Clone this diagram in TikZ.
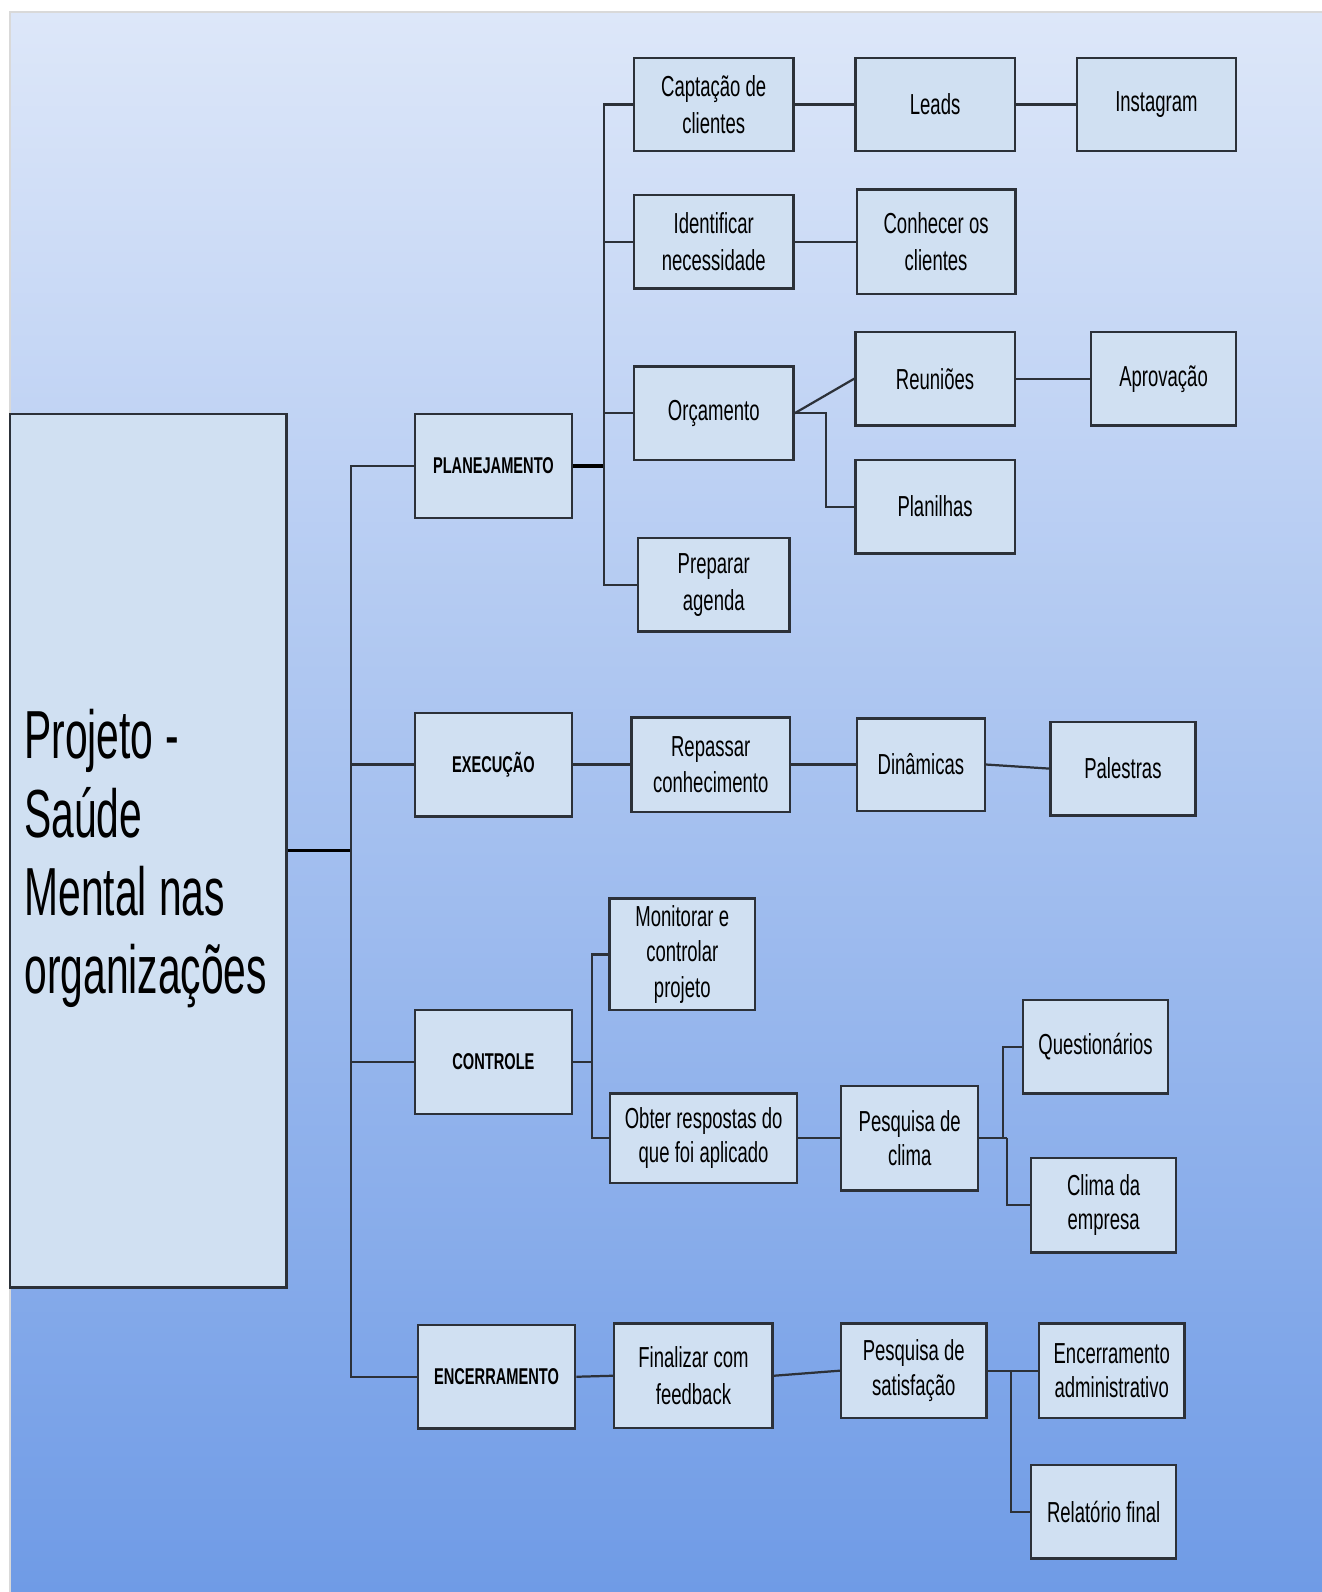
\documentclass[tikz,border=0pt]{standalone}
\usepackage{fontspec}
\setmainfont{Liberation Sans}[FakeStretch=0.64]
\newfontfamily\titlefont{Liberation Sans}[FakeStretch=0.6]
\usepackage{tikz}
\newcommand{\tightspace}{\spaceskip=0.18em plus 0.05em\relax}
\definecolor{boxfill}{HTML}{D0E0F2}
\definecolor{boxline}{HTML}{2C3139}
\definecolor{bgtop}{HTML}{DDE7F9}
\definecolor{bgbottom}{HTML}{6F9BE6}
\tikzset{
  task/.style={draw=boxline, fill=boxfill, line width=2.4pt, align=flush center, inner sep=2pt,
    font=\fontsize{28.5}{36}\selectfont\tightspace},
  phase/.style={task, minimum width=155pt, minimum height=102pt,
    font=\bfseries\fontsize{22.5}{28}\selectfont},
  link/.style={draw=boxline, line width=2.2pt},
}

\begin{document}
\begin{tikzpicture}[x=1pt, y=-1pt]
    \useasboundingbox (0,0) rectangle (1302,1568);
    \fill [white] (0,0) rectangle (1302,1568);
    \shade [top color=bgtop, bottom color=bgbottom] (10,12) rectangle (1302,1568);
    \draw [black!15, line width=1.5pt] (10,1568) -- (10,12) -- (1302,12);

    \node [task, text width=244pt, inner xsep=14pt, minimum height=860pt, align=flush left,
      font=\titlefont\fontsize{67}{77}\selectfont\tightspace] (projeto) at (146,838)
      {\rule{0pt}{64pt}Projeto -\\Saúde\\Mental nas\\organizações};

    \node [phase] (planejamento) at (486,459) {PLANEJAMENTO};
    \node [phase] (execucao) at (486,753) {EXECUÇÃO};
    \node [phase] (controle) at (486,1046) {CONTROLE};
    \node [phase] (encerramento) at (489,1356) {ENCERRAMENTO};

    %for planejamento
    \node [task, minimum width=157pt, minimum height=92pt] (captacao) at (703,103) {Captação de\\clientes};
    \node [task, minimum width=157pt, minimum height=92pt] (identificar) at (703,238) {Identificar\\necessidade};
    \node [task, minimum width=157pt, minimum height=92pt] (orcamento) at (703,407) {Orçamento};
    \node [task, minimum width=149pt, minimum height=92pt] (agenda) at (703,576) {Preparar\\agenda};
    \node [task, minimum width=157pt, minimum height=92pt] (leads) at (921,103) {Leads};
    \node [task, minimum width=157pt, minimum height=92pt] (instagram) at (1139,103) {Instagram};
    \node [task, minimum width=156pt, minimum height=103pt] (conhecer) at (922,238) {Conhecer os\\clientes};
    \node [task, minimum width=157pt, minimum height=92pt] (reunioes) at (921,373) {Reuniões};
    \node [task, minimum width=143pt, minimum height=92pt] (aprovacao) at (1146,373) {Aprovação};
    \node [task, minimum width=157pt, minimum height=92pt] (planilhas) at (921,499) {Planilhas};

    %for execucao
    \node [task, minimum width=156pt, minimum height=93pt] (repassar) at (700,753) {Repassar\\conhecimento};
    \node [task, minimum width=126pt, minimum height=91pt] (dinamicas) at (907,753) {Dinâmicas};
    \node [task, minimum width=143pt, minimum height=92pt] (palestras) at (1106,757) {Palestras};

    %for controle
    \node [task, minimum width=143pt, minimum height=110pt, font=\fontsize{28.5}{35}\selectfont\tightspace] (monitorar) at (672,940) {Monitorar e\\controlar\\projeto};
    \node [task, minimum width=184pt, minimum height=88pt, font=\fontsize{28.5}{34}\selectfont\tightspace] (obter) at (693,1121) {Obter respostas do\\que foi aplicado};
    \node [task, minimum width=135pt, minimum height=103pt, font=\fontsize{28.5}{34}\selectfont\tightspace] (clima) at (896,1121) {Pesquisa de\\clima};
    \node [task, minimum width=143pt, minimum height=92pt] (questionarios) at (1079,1031) {Questionários};
    \node [task, minimum width=143pt, minimum height=93pt, font=\fontsize{28.5}{34}\selectfont\tightspace] (empresa) at (1087,1187) {Clima da\\empresa};

    %for encerramento
    \node [task, minimum width=156pt, minimum height=103pt] (finalizar) at (683,1355) {Finalizar com\\feedback};
    \node [task, minimum width=143pt, minimum height=93pt, font=\fontsize{28.5}{34}\selectfont\tightspace] (satisfacao) at (900,1350) {Pesquisa de\\satisfação};
    \node [task, minimum width=143pt, minimum height=93pt, font=\fontsize{28.5}{34}\selectfont] (administrativo) at (1095,1350) {Encerramento\\administrativo};
    \node [task, minimum width=143pt, minimum height=92pt] (relatorio) at (1087,1489) {Relatório final};

    %trunk
    \coordinate (trunk) at (346,838);
    \draw [black, line width=3.2pt] (projeto.east) -- (trunk);
    \draw [link] (trunk) |- (planejamento.west);
    \draw [link] (trunk) |- (execucao.west);
    \draw [link] (trunk) |- (controle.west);
    \draw [link] (trunk) |- (encerramento.west);

    %for planejamento
    \coordinate (pbus) at (595,459);
    \draw [black, line width=3.2pt] (planejamento.east) -- (pbus);
    \draw [link] (pbus) |- (captacao.west);
    \draw [link] (pbus) |- (identificar.west);
    \draw [link] (pbus) |- (orcamento.west);
    \draw [link] (pbus) |- (agenda.west);
    \draw [link] (captacao.east) -- (leads.west);
    \draw [link] (leads.east) -- (instagram.west);
    \draw [link] (identificar.east) -- (conhecer.west);
    \draw [link] (orcamento.east) -- (reunioes.west);
    \draw [link] (orcamento.east) -- ++(31,0) |- (planilhas.west);
    \draw [link] (reunioes.east) -- (aprovacao.west);

    %for execucao
    \draw [link] (execucao.east) -- (repassar.west);
    \draw [link] (repassar.east) -- (dinamicas.west);
    \draw [link] (dinamicas.east) -- (palestras.west);

    %for controle
    \coordinate (cbus) at (583,1046);
    \draw [link] (controle.east) -- (cbus);
    \draw [link] (cbus) |- (monitorar.west);
    \draw [link] (cbus) |- (obter.west);
    \draw [link] (obter.east) -- (clima.west);
    \draw [link] (clima.east) -- ++(27,0);
    \draw [link] (clima.east) ++(23,0) |- (questionarios.west);
    \draw [link] (clima.east) ++(27,0) |- (empresa.west);

    %for encerramento
    \draw [link] (encerramento.east) -- (finalizar.west);
    \draw [link] (finalizar.east) -- (satisfacao.west);
    \draw [link] (satisfacao.east) -- (administrativo.west);
    \draw [link] (satisfacao.east) ++(23,0) |- (relatorio.west);

\end{tikzpicture}
\end{document}
